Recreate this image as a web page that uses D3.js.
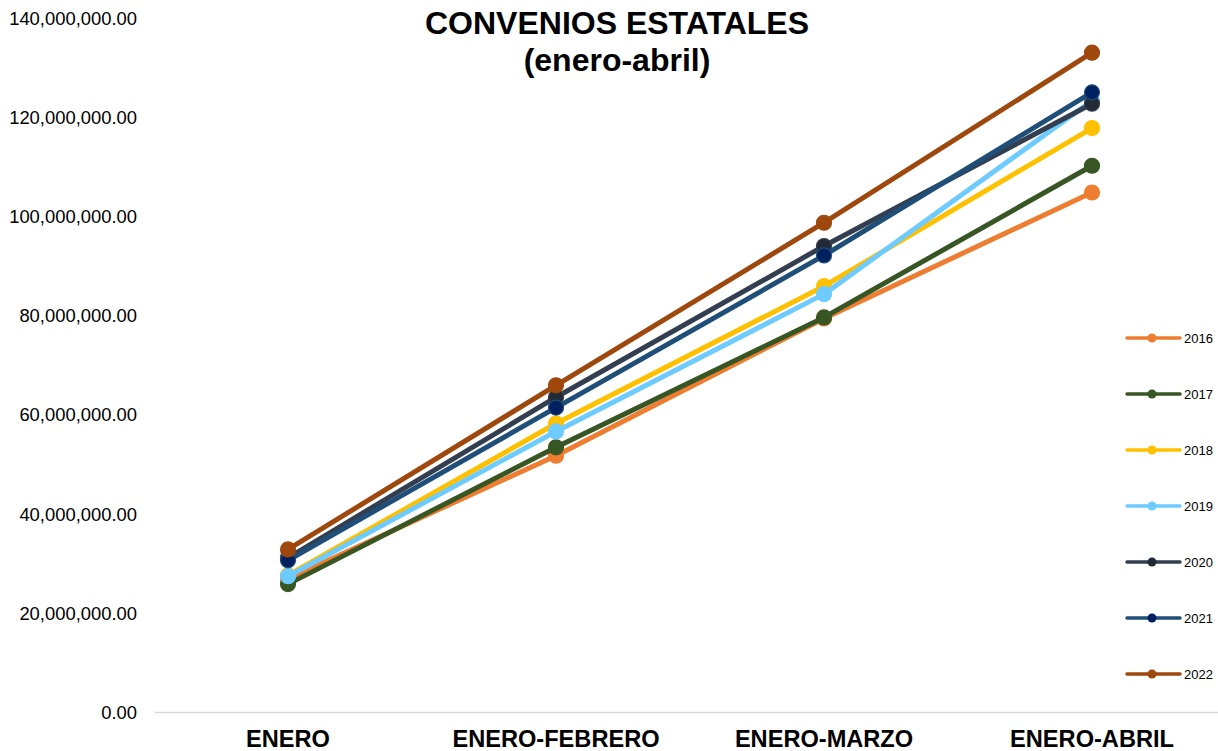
<!DOCTYPE html>
<html>
<head>
<meta charset="utf-8">
<script src="https://cdn.jsdelivr.net/npm/d3@7"></script>
<style>
  html, body { margin: 0; padding: 0; background: #fff; }
  svg { display: block; font-family: "Liberation Sans", Arial, sans-serif; }
</style>
</head>
<body>
<svg id="chart" width="1218" height="751"></svg>
<script>
const categories = ["ENERO", "ENERO-FEBRERO", "ENERO-MARZO", "ENERO-ABRIL"];
const years = ["2016", "2017", "2018", "2019", "2020", "2021", "2022"];
const v2016 = [27000000, 51800000, 79500000, 104900000];
const v2017 = [25900000, 53500000, 79700000, 110300000];
const v2018 = [27700000, 58300000, 86000000, 117900000];
const v2019 = [27500000, 56700000, 84400000, 123400000];
const v2020 = [31200000, 63600000, 94100000, 122800000];
const v2021 = [30700000, 61500000, 92200000, 125100000];
const v2022 = [32900000, 66000000, 98800000, 133100000];
const yTicks = [0, 20000000, 40000000, 60000000, 80000000, 100000000, 120000000, 140000000];
const lineColors = ["#ED7D31", "#375623", "#FFC000", "#6DCBFF", "#333F50", "#1F4E79", "#9E480E"];
const markerColors = ["#ED7D31", "#375623", "#FFC000", "#6DCBFF", "#222A35", "#002060", "#9E480E"];

const seriesValues = [v2016, v2017, v2018, v2019, v2020, v2021, v2022];
const series = years.map((y, i) => ({
  name: y, line: lineColors[i], marker: markerColors[i],
  values: seriesValues[i].map((v, j) => ({ cat: categories[j], v }))
}));

const svg = d3.select("#chart");
const x = d3.scaleBand().domain(categories).range([154, 1226]);
const y = d3.scaleLinear().domain([0, 140000000]).range([712.5, 18.5]);

// baseline
svg.append("line").attr("x1", 155).attr("x2", 1218)
  .attr("y1", y(0)).attr("y2", y(0))
  .attr("stroke", "#d9d9d9").attr("stroke-width", 1.5);

// y axis labels
const fmt = d3.format(",.2f");
const yAxis = d3.axisLeft(y).tickValues(yTicks).tickFormat(fmt).tickSize(0).tickPadding(0);
const gy = svg.append("g").attr("transform", "translate(137,0)").call(yAxis);
gy.select(".domain").remove();
gy.selectAll("text").attr("font-size", 18.4).attr("fill", "#000")
  .attr("font-family", "'Liberation Sans', Arial, sans-serif");

// x axis labels
const xAxis = d3.axisBottom(x).tickSize(0).tickPadding(0);
const gx = svg.append("g").attr("transform", "translate(0,730)").call(xAxis);
gx.select(".domain").remove();
gx.selectAll("text").attr("font-size", 23.6).attr("font-weight", "bold").attr("fill", "#000")
  .attr("font-family", "'Liberation Sans', Arial, sans-serif");

// lines
const line = d3.line().x(d => x(d.cat) + x.bandwidth() / 2).y(d => y(d.v));
const g = svg.append("g");
series.forEach(s => {
  g.append("path").datum(s.values).attr("d", line)
    .attr("fill", "none").attr("stroke", s.line).attr("stroke-width", 5)
    .attr("stroke-linejoin", "round");
  g.selectAll(null).data(s.values).enter().append("circle")
    .attr("cx", d => x(d.cat) + x.bandwidth() / 2).attr("cy", d => y(d.v))
    .attr("r", 7.5).attr("fill", s.marker).attr("stroke", s.line).attr("stroke-width", 1.2);
});

// legend
const leg = svg.append("g");
series.forEach((s, i) => {
  const ly = 338 + i * 56;
  leg.append("line").attr("x1", 1127).attr("x2", 1180).attr("y1", ly).attr("y2", ly)
    .attr("stroke", s.line).attr("stroke-width", 3.5).attr("stroke-linecap", "round");
  leg.append("circle").attr("cx", 1152).attr("cy", ly).attr("r", 4.5).attr("fill", s.marker);
  leg.append("text").attr("x", 1184).attr("y", ly).attr("dy", "0.35em")
    .attr("font-size", 13).attr("fill", "#000").text(s.name);
});

// title
svg.append("text").attr("x", 617).attr("y", 34).attr("text-anchor", "middle")
  .attr("font-size", 32).attr("font-weight", "bold").text("CONVENIOS ESTATALES");
svg.append("text").attr("x", 617).attr("y", 71).attr("text-anchor", "middle")
  .attr("font-size", 32).attr("font-weight", "bold").text("(enero-abril)");
</script>
</body>
</html>
